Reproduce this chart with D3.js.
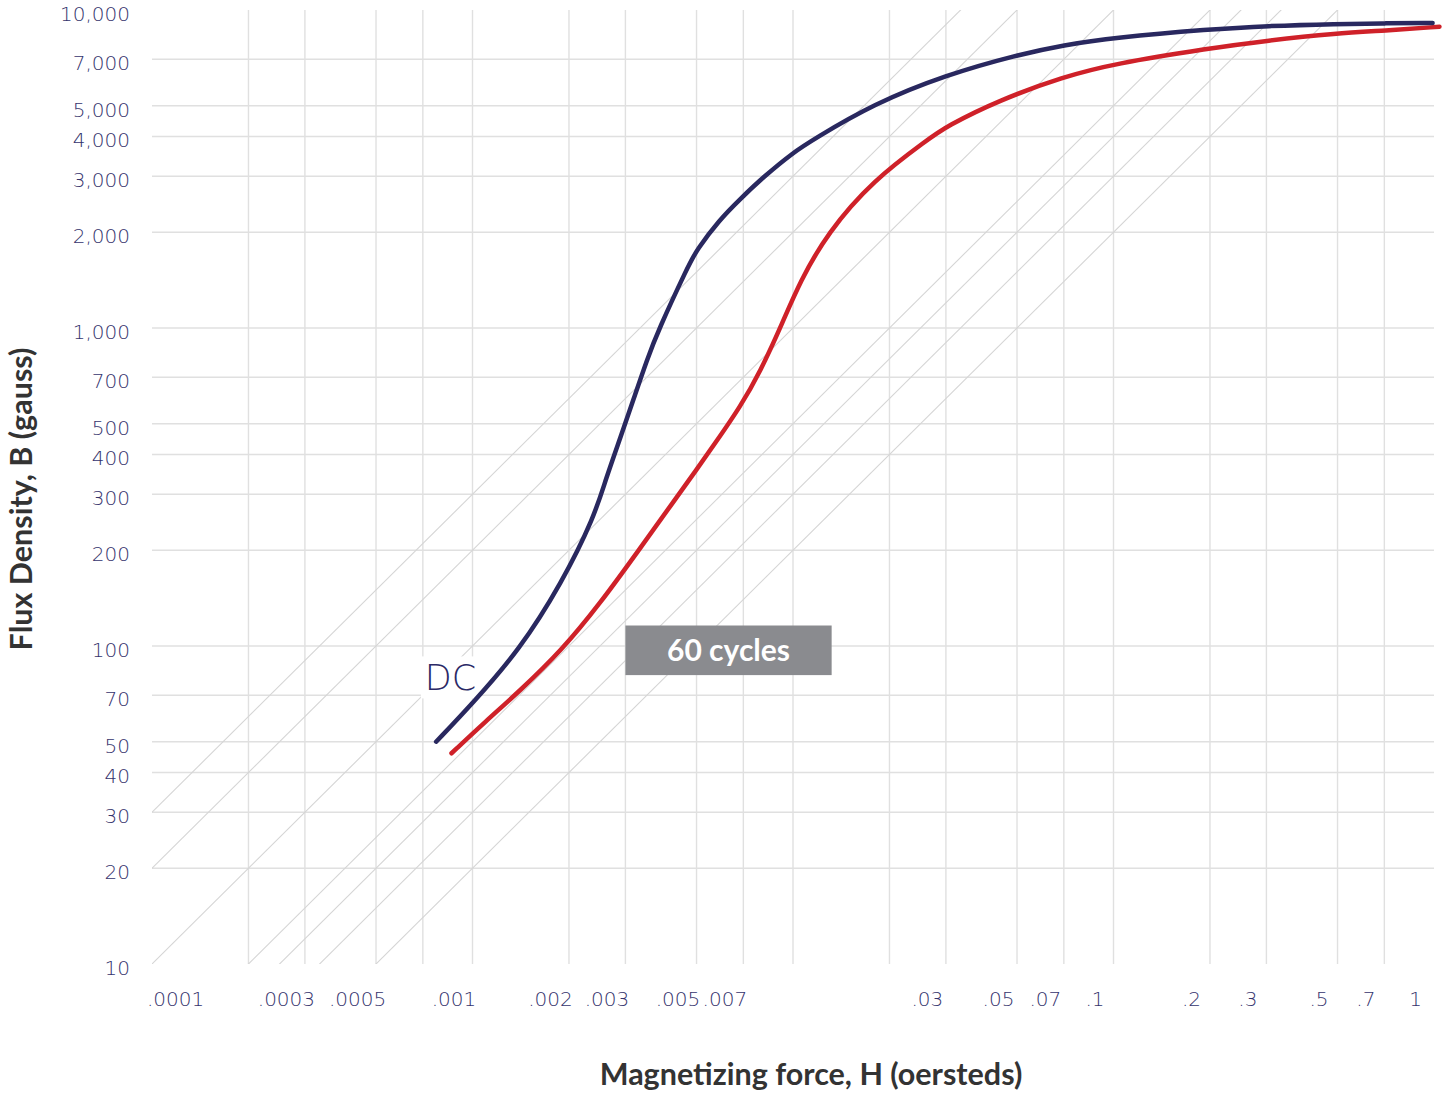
<!DOCTYPE html>
<html>
<head>
<meta charset="utf-8">
<script src="https://cdn.jsdelivr.net/npm/d3@7"></script>
<style>
  html, body { margin: 0; padding: 0; background: #ffffff; }
  svg { display: block; }
</style>
</head>
<body>
<svg id="chart" width="1447" height="1096"></svg>
<script>
// ---------------- data ----------------
const dcH = [0.00077, 0.001, 0.0014, 0.0019, 0.0024, 0.0026, 0.0029, 0.0032, 0.0035, 0.0038, 0.0047, 0.005, 0.0059, 0.0068, 0.0081, 0.01, 0.0116, 0.0178, 0.03, 0.05, 0.07, 0.1, 0.2, 0.3, 0.5, 0.7, 0.99];
const dcB = [50, 66, 97, 158, 255, 333, 455, 608, 793, 985, 1560, 1760, 2190, 2530, 2990, 3560, 3920, 5060, 6250, 7220, 7760, 8180, 8700, 8910, 9040, 9080, 9100];

const acH = [0.00086, 0.0011, 0.0014, 0.0019, 0.0025, 0.0033, 0.0042, 0.005, 0.0059, 0.0068, 0.0079, 0.0093, 0.0105, 0.0128, 0.0178, 0.0264, 0.03, 0.044, 0.07, 0.1, 0.2, 0.3, 0.5, 0.7, 1.04];
const acB = [46, 58, 72, 97, 136, 200, 281, 358, 455, 560, 727, 1045, 1395, 1990, 2920, 3920, 4300, 5210, 6170, 6770, 7580, 8010, 8450, 8610, 8860];

const xTickValues = [0.0001, 0.0003, 0.0005, 0.001, 0.002, 0.003, 0.005, 0.007, 0.03, 0.05, 0.07, 0.1, 0.2, 0.3, 0.5, 0.7, 1];
const xTickLabels = [".0001", ".0003", ".0005", ".001", ".002", ".003", ".005", ".007", ".03", ".05", ".07", ".1", ".2", ".3", ".5", ".7", "1"];
const xGridValues = [0.0002, 0.0003, 0.0005, 0.0007, 0.001, 0.002, 0.003, 0.005, 0.007, 0.01, 0.02, 0.03, 0.05, 0.07, 0.1, 0.2, 0.3, 0.5, 0.7];

const yTickValues = [10, 20, 30, 40, 50, 70, 100, 200, 300, 400, 500, 700, 1000, 2000, 3000, 4000, 5000, 7000, 10000];
const yTickLabels = ["10", "20", "30", "40", "50", "70", "100", "200", "300", "400", "500", "700", "1,000", "2,000", "3,000", "4,000", "5,000", "7,000", "10,000"];
const yGridValues = [20, 30, 40, 50, 70, 100, 200, 300, 400, 500, 700, 1000, 2000, 3000, 4000, 5000, 7000];

const permeabilities = [20000, 30000, 40000, 50000, 100000, 200000, 300000];

const seriesNames = ["DC", "60 cycles"];

// ---------------- layout ----------------
const plot = { left: 152, right: 1434, top: 10, bottom: 964 };
const svg = d3.select("#chart");

const x = d3.scaleLog().domain([0.0001, 1]).range([plot.left, plot.right]);
const y = d3.scaleLog().domain([10, 10000]).range([plot.bottom, plot.top]);

const tickFont = "'DejaVu Sans', sans-serif";
const tickColor = "#35336d";
const gridColor = "#e0e0e0";

svg.append("rect").attr("width", 1447).attr("height", 1096).attr("fill", "#ffffff");

svg.append("clipPath").attr("id", "plotClip")
  .append("rect")
  .attr("x", plot.left).attr("y", plot.top)
  .attr("width", plot.right - plot.left).attr("height", plot.bottom - plot.top);

// grid
const grid = svg.append("g");
grid.selectAll("line.v").data(xGridValues).join("line")
  .attr("class", "v")
  .attr("x1", d => x(d)).attr("x2", d => x(d))
  .attr("y1", plot.top).attr("y2", plot.bottom)
  .attr("stroke", gridColor).attr("stroke-width", 1.4);
grid.selectAll("line.h").data(yGridValues).join("line")
  .attr("class", "h")
  .attr("x1", plot.left).attr("x2", plot.right)
  .attr("y1", d => y(d)).attr("y2", d => y(d))
  .attr("stroke", gridColor).attr("stroke-width", 1.4);

// constant permeability diagonals  B = mu * H
const diag = svg.append("g").attr("clip-path", "url(#plotClip)");
diag.selectAll("line").data(permeabilities).join("line")
  .attr("x1", d => x(1e-6)).attr("y1", d => y(d * 1e-6))
  .attr("x2", d => x(10)).attr("y2", d => y(d * 10))
  .attr("stroke", "#d5d5d5").attr("stroke-width", 1.1);

// DC label (white background hides the diagonal)
const dcLabelPos = { H: 0.00071, B: 72.5 };
const dcLabel = svg.append("g");
const dcText = dcLabel.append("text")
  .attr("x", x(dcLabelPos.H)).attr("y", y(dcLabelPos.B))
  .attr("font-family", tickFont).attr("font-weight", 200)
  .attr("font-size", 35).attr("fill", "#2b2966")
  .text(seriesNames[0]);
const bb = dcText.node().getBBox();
dcLabel.insert("rect", "text")
  .attr("x", bb.x - 4).attr("y", bb.y - 2)
  .attr("width", bb.width + 8).attr("height", bb.height + 2)
  .attr("fill", "#ffffff");

// curves
const line = d3.line()
  .x(d => x(d[0])).y(d => y(d[1]))
  .curve(d3.curveBasis);

svg.append("path")
  .datum(d3.zip(acH, acB))
  .attr("d", line)
  .attr("fill", "none").attr("stroke", "#cf2129")
  .attr("stroke-width", 4.5).attr("stroke-linecap", "round");

svg.append("path")
  .datum(d3.zip(dcH, dcB))
  .attr("d", line)
  .attr("fill", "none").attr("stroke", "#29285f")
  .attr("stroke-width", 4.5).attr("stroke-linecap", "round");

// 60 cycles box
const boxPos = { H0: 0.003, H1: 0.0132, B0: 81, B1: 116 };
const box = svg.append("g");
box.append("rect")
  .attr("x", x(boxPos.H0)).attr("y", y(boxPos.B1))
  .attr("width", x(boxPos.H1) - x(boxPos.H0))
  .attr("height", y(boxPos.B0) - y(boxPos.B1))
  .attr("fill", "#8a8b8f");
box.append("text")
  .attr("x", (x(boxPos.H0) + x(boxPos.H1)) / 2)
  .attr("y", (y(boxPos.B0) + y(boxPos.B1)) / 2)
  .attr("dy", "0.36em")
  .attr("text-anchor", "middle")
  .attr("font-family", "Lato, sans-serif").attr("font-weight", 700)
  .attr("font-size", 30).attr("fill", "#ffffff")
  .text(seriesNames[1]);

// axes
const xAxis = d3.axisBottom(x)
  .tickValues(xTickValues)
  .tickFormat((d, i) => xTickLabels[i])
  .tickSize(0).tickPadding(28);
const gx = svg.append("g").attr("transform", `translate(0,${plot.bottom})`).call(xAxis);
gx.select(".domain").remove();
gx.selectAll("text")
  .attr("font-family", tickFont).attr("font-weight", 200)
  .attr("font-size", 20).attr("fill", tickColor)
  .attr("dx", -19);
// keep labels from spilling left of the plot area
gx.selectAll("text").each(function () {
  const b = this.getBBox();
  const tr = this.parentNode.getAttribute("transform");
  const tx = +tr.match(/translate\(([-\d.]+)/)[1];
  const left = tx + b.x;
  if (left < plot.left - 5) d3.select(this).attr("dx", -19 + (plot.left - 5 - left));
});

const yAxis = d3.axisLeft(y)
  .tickValues(yTickValues)
  .tickFormat((d, i) => yTickLabels[i])
  .tickSize(0).tickPadding(22);
const gy = svg.append("g").attr("transform", `translate(${plot.left},0)`).call(yAxis);
gy.select(".domain").remove();
gy.selectAll("text")
  .attr("font-family", tickFont).attr("font-weight", 200)
  .attr("font-size", 20).attr("fill", tickColor)
  .attr("dy", "0.52em");

// axis titles
svg.append("text")
  .attr("transform", `translate(32,${(plot.top + plot.bottom) / 2 + 12}) rotate(-90)`)
  .attr("text-anchor", "middle")
  .attr("font-family", "Lato, sans-serif").attr("font-weight", 700)
  .attr("font-size", 30.5).attr("fill", "#333333")
  .text("Flux Density, B (gauss)");

svg.append("text")
  .attr("x", 811).attr("y", 1085)
  .attr("text-anchor", "middle")
  .attr("font-family", "Lato, sans-serif").attr("font-weight", 700)
  .attr("font-size", 30.5).attr("fill", "#333333")
  .text("Magnetizing force, H (oersteds)");
</script>
</body>
</html>
